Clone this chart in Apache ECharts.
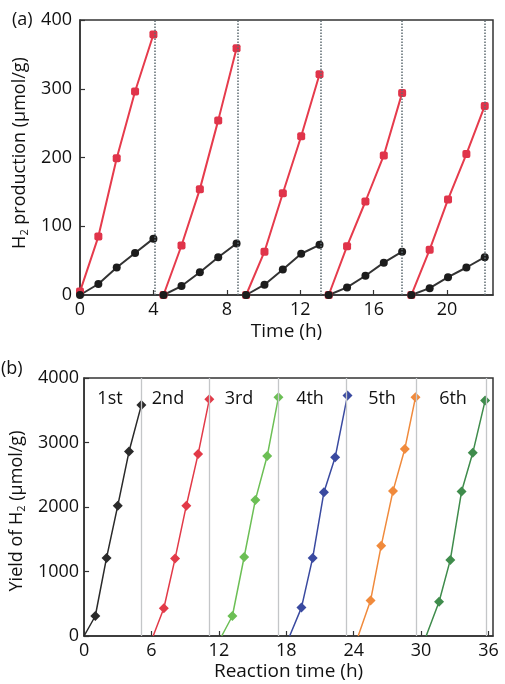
<!DOCTYPE html>
<html>
<head>
<meta charset="utf-8">
<script src="https://cdn.jsdelivr.net/npm/echarts@6/dist/echarts.min.js"></script>
<style>
  html, body { margin: 0; padding: 0; background: #fff; }
  #chart { width: 505px; height: 684px; }
</style>
</head>
<body>
<div id="chart"></div>
<script>
// panel (a): five cycles, time (h) and H2 production (umol/g)
var topTimes = [
  [0, 1, 2, 3, 4],
  [4.55, 5.53, 6.53, 7.53, 8.53],
  [9.05, 10.05, 11.05, 12.05, 13.05],
  [13.55, 14.55, 15.55, 16.55, 17.55],
  [18.05, 19.05, 20.05, 21.05, 22.05]
];
var topRed = [
  [5, 85, 199, 296, 379],
  [0, 72, 154, 254, 359],
  [0, 63, 148, 231, 321],
  [0, 71, 136, 203, 294],
  [0, 66, 139, 205, 275]
];
var topBlack = [
  [0, 16, 40, 61, 82],
  [0, 13, 33, 55, 75],
  [0, 15, 37, 60, 73],
  [0, 11, 28, 47, 63],
  [0, 10, 26, 40, 55]
];
var topEnds = [4.05, 8.6, 13.1, 17.55, 22.05];

// panel (b): six runs, reaction time (h) and yield of H2 (umol/g)
var runNames = ['1st', '2nd', '3rd', '4th', '5th', '6th'];
var runTimes = [
  [0, 1, 2, 3, 4, 5.1],
  [6.15, 7.1, 8.1, 9.1, 10.15, 11.15],
  [12.25, 13.2, 14.25, 15.25, 16.3, 17.3],
  [18.3, 19.35, 20.35, 21.35, 22.35, 23.45],
  [24.4, 25.5, 26.45, 27.5, 28.55, 29.5],
  [30.45, 31.6, 32.6, 33.6, 34.6, 35.7]
];
var runYield = [
  [0, 310, 1210, 2020, 2860, 3580],
  [0, 430, 1200, 2020, 2820, 3670],
  [0, 310, 1225, 2110, 2790, 3700],
  [0, 440, 1210, 2230, 2770, 3730],
  [0, 550, 1400, 2250, 2900, 3700],
  [0, 530, 1180, 2240, 2840, 3650]
];
var runEnds = [5.05, 11.15, 17.25, 23.38, 29.57, 35.79];
var runColors = ['#2a2a2a', '#e23a48', '#6cbf55', '#3a4aa0', '#f08a3c', '#3f8c4c'];

var font = 'Open Sans';
var txt = '#111';

function pairs(xs, ys) {
  return xs.map(function (x, i) { return [x, ys[i]]; });
}

var series = [];
topTimes.forEach(function (t, i) {
  series.push({
    type: 'line', xAxisIndex: 0, yAxisIndex: 0,
    data: pairs(t, topRed[i]),
    symbol: 'roundRect', symbolSize: 8,
    lineStyle: { color: '#e63b4c', width: 2 },
    itemStyle: { color: '#e0344a' }
  });
  series.push({
    type: 'line', xAxisIndex: 0, yAxisIndex: 0,
    data: pairs(t, topBlack[i]),
    symbol: 'circle', symbolSize: 8,
    lineStyle: { color: '#333', width: 2 },
    itemStyle: { color: '#1c1c1c' }
  });
});
// dotted end-of-cycle lines
series[0].markLine = {
  silent: true, symbol: 'none', label: { show: false },
  lineStyle: { type: 'dotted', color: '#5d6b70', width: 1.5 },
  data: topEnds.map(function (v) { return { xAxis: v }; })
};

runTimes.forEach(function (t, i) {
  series.push({
    type: 'line', xAxisIndex: 1, yAxisIndex: 1,
    data: pairs(t, runYield[i]),
    symbol: 'diamond',
    symbolSize: function (v) { return v[1] === 0 ? 0 : 10; },
    lineStyle: { color: runColors[i], width: 1.5 },
    itemStyle: { color: runColors[i] },
    markLine: {
      silent: true, symbol: 'none', label: { show: false },
      lineStyle: { type: 'solid', color: '#c4c6c8', width: 1.3 },
      data: [{ xAxis: runEnds[i] }]
    }
  });
});

var axisCommon = {
  axisLine: { lineStyle: { color: '#333', width: 1.5 } },
  axisTick: { inside: true, length: 5, lineStyle: { color: '#333', width: 1.2 } },
  splitLine: { show: false }
};

function ax(extra) {
  return Object.assign({}, JSON.parse(JSON.stringify(axisCommon)), extra);
}

var subRich = {
  sub: { fontSize: 11, fontFamily: font, color: txt, padding: [9, 0, 0, 0] }
};

var plain = function (v) { return String(v); };

var option = {
  animation: false,
  grid: [
    { left: 80, top: 20, right: 12, height: 275, show: true, borderColor: '#333', borderWidth: 1.5 },
    { left: 77, top: 378, right: 12, height: 258, show: true, borderColor: '#333', borderWidth: 1.5 }
  ],
  xAxis: [
    ax({
      type: 'value', gridIndex: 0, min: 0, max: 22.5, interval: 4,
      name: 'Time (h)', nameLocation: 'middle', nameGap: 27,
      nameTextStyle: { color: txt, fontSize: 19, fontFamily: font },
      axisLabel: { color: txt, fontSize: 18, fontFamily: font, margin: 6, showMaxLabel: false, formatter: plain }
    }),
    ax({
      type: 'value', gridIndex: 1, min: 0, max: 36.4, interval: 6,
      name: 'Reaction time (h)', nameLocation: 'middle', nameGap: 26,
      nameTextStyle: { color: txt, fontSize: 19, fontFamily: font },
      axisLabel: { color: txt, fontSize: 18, fontFamily: font, margin: 6, showMaxLabel: false, formatter: plain }
    })
  ],
  yAxis: [
    ax({
      type: 'value', gridIndex: 0, min: 0, max: 400, interval: 100,
      name: 'H{sub|2} production (μmol/g)', nameLocation: 'middle', nameGap: 46,
      nameTextStyle: { color: txt, fontSize: 18, fontFamily: font, rich: subRich, padding: [0, 0, 0, 9] },
      axisLabel: { color: txt, fontSize: 18, fontFamily: font, margin: 8, formatter: plain }
    }),
    ax({
      type: 'value', gridIndex: 1, min: 0, max: 4000, interval: 1000,
      name: 'Yield of H{sub|2} (μmol/g)', nameLocation: 'middle', nameGap: 54,
      nameTextStyle: { color: txt, fontSize: 18, fontFamily: font, rich: subRich, padding: [0, 8, 0, 0] },
      axisLabel: { color: txt, fontSize: 18, fontFamily: font, margin: 5, formatter: plain }
    })
  ],
  graphic: [
    { type: 'text', left: 12, top: 11, style: { text: '(a)', fontSize: 18, fontFamily: font, fill: txt } },
    { type: 'text', left: 1, top: 360, style: { text: '(b)', fontSize: 18, fontFamily: font, fill: txt } }
  ].concat(runNames.map(function (n, i) {
    var cx = [110, 168, 239, 310, 382, 453][i];
    return {
      type: 'text', x: cx, y: 399,
      style: { text: n, fontSize: 18, fontFamily: font, fill: txt, align: 'center', verticalAlign: 'middle' }
    };
  })),
  series: series
};

var chart = echarts.init(document.getElementById('chart'));
chart.setOption(option);
</script>
</body>
</html>
